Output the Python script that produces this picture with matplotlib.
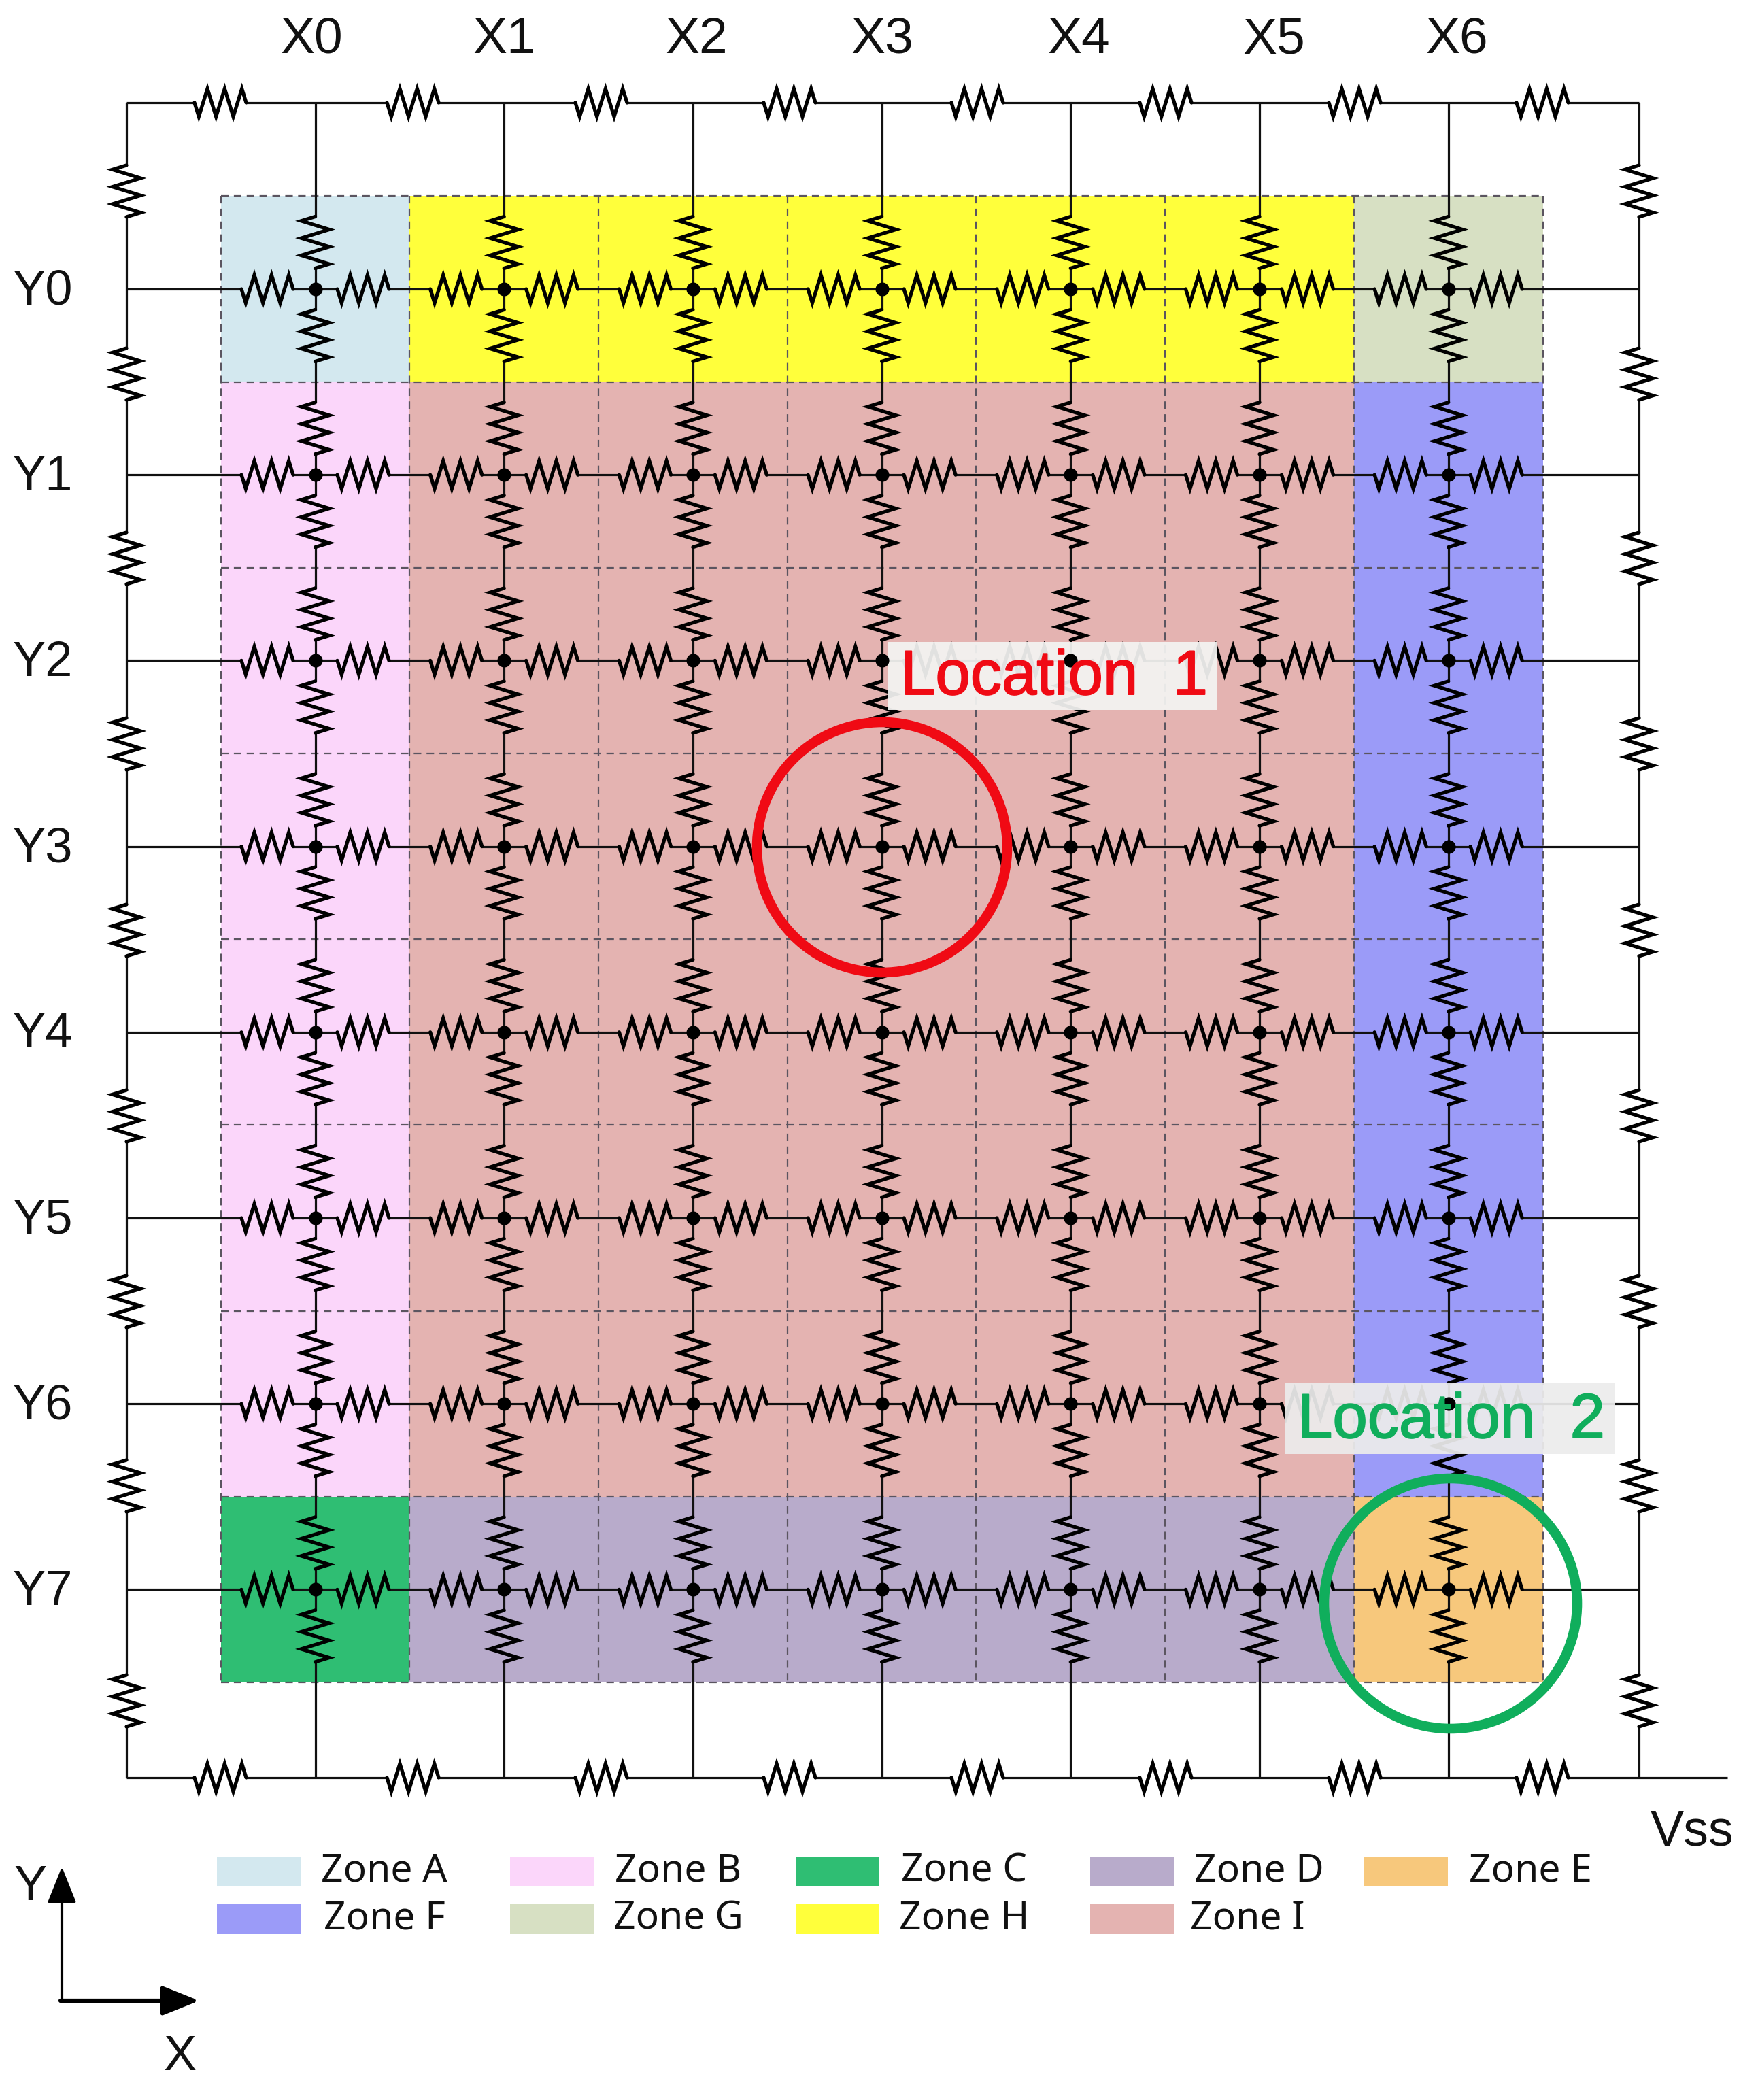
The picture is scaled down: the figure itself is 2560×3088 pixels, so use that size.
import numpy as np
import matplotlib
matplotlib.use("Agg")
import matplotlib.pyplot as plt
import matplotlib.patheffects as pe
from matplotlib.collections import LineCollection
from matplotlib.patches import Rectangle, Ellipse

# ---- chart content -------------------------------------------------
x_labels = ["X0", "X1", "X2", "X3", "X4", "X5", "X6"]
y_labels = ["Y0", "Y1", "Y2", "Y3", "Y4", "Y5", "Y6", "Y7"]
zone_rows = ["AHHHHHG", "BIIIIIF", "BIIIIIF", "BIIIIIF",
             "BIIIIIF", "BIIIIIF", "BIIIIIF", "CDDDDDE"]
zone_names = ["A", "B", "C", "D", "E", "F", "G", "H", "I"]
zone_colors = ["#D3E8EF", "#FBD6FA", "#2FBE73", "#B8ABCB", "#F7C87C",
               "#9B9BF8", "#D7E0C3", "#FFFF3B", "#E4B3B1"]

# ---- geometry (grid units; one unit = one node pitch) ---------------
W, H = 2560, 3088
PX, PY = 277.7, 273.2       # pixels per grid unit
X0, Y0 = 463.5, 425.0       # pixel position of node X0/Y0
def px(v): return (v - X0) / PX
def py(v): return (v - Y0) / PY

plt.rcParams["font.family"] = ["Liberation Sans", "DejaVu Sans"]
fig = plt.figure(figsize=(W / 100, H / 100), dpi=100)
ax = fig.add_axes([0, 0, 1, 1])
ax.set_xlim(px(0), px(W))
ax.set_ylim(py(H), py(0))
ax.axis("off")

# zones
for r, row in enumerate(zone_rows):
    for c, z in enumerate(row):
        ax.add_patch(Rectangle((c - 0.5, r - 0.5), 1, 1, lw=0,
                               fc=zone_colors[zone_names.index(z)], zorder=1))
dash = dict(color="#5b5560", lw=1.6, ls=(0, (5, 3.5)), zorder=2)
for c in range(8):
    ax.plot([c - 0.5, c - 0.5], [-0.5, 7.5], **dash)
for r in range(9):
    ax.plot([-0.5, 6.5], [r - 0.5, r - 0.5], **dash)

RL, AMP = 76.0, 20.5        # resistor length and half width, pixels
ts = (np.arange(6) + 0.5) / 6

def h_res(xc, y):
    xs = xc + (np.r_[0, ts, 1] - 0.5) * RL / PX
    off = np.r_[0, np.tile([1, -1], 3), 0] * AMP / PY
    return np.c_[xs, y + off]

def v_res(x, yc):
    ys = yc + (np.r_[0, ts, 1] - 0.5) * RL / PY
    off = np.r_[0, np.tile([-1, 1], 3), 0] * AMP / PX
    return np.c_[x + off, ys]

wires, res = [], []

def h_line(y, x_start, x_end, centers):
    cur = x_start
    for xc in sorted(centers):
        wires.append([(cur, y), (xc - RL / 2 / PX, y)])
        res.append(h_res(xc, y))
        cur = xc + RL / 2 / PX
    wires.append([(cur, y), (x_end, y)])

def v_line(x, y_start, y_end, centers):
    cur = y_start
    for yc in sorted(centers):
        wires.append([(x, cur), (x, yc - RL / 2 / PY)])
        res.append(v_res(x, yc))
        cur = yc + RL / 2 / PY
    wires.append([(x, cur), (x, y_end)])

left, right = px(186), px(2410)
top, bottom = py(151), py(2614)
mids = [px(v) for v in (324, 607, 884, 1161, 1437, 1714, 1992, 2268)]
hoff, voff = 70.5 / PX, 68.5 / PY

h_line(top, left, right, mids)
h_line(bottom, left, px(2540), mids)
side_ys = [py(v) for v in (281, 550, 821, 1094, 1368, 1641, 1914, 2185, 2501)]
v_line(left, top, bottom, side_ys)
v_line(right, top, bottom, side_ys)
for r in range(8):
    cs = []
    for c in range(7):
        cs += [c - hoff, c + hoff]
    h_line(r, left, right, cs)
for c in range(7):
    cs = []
    for r in range(8):
        cs += [r - voff, r + voff]
    v_line(c, top, bottom, cs)

ax.add_collection(LineCollection(wires, colors="#111111", linewidths=2.3, zorder=3))
ax.add_collection(LineCollection(res, colors="black", linewidths=3.8, zorder=4,
                                 capstyle="round", joinstyle="miter"))

# label boxes sit over the network, node dots stay on top
ax.add_patch(Rectangle((px(1306), py(944)), (1789 - 1306) / PX, 100 / PY, lw=0,
                       fc="#F4F4F2", alpha=0.93, zorder=5))
ax.add_patch(Rectangle((px(1889), py(2034)), (2375 - 1889) / PX, 104 / PY, lw=0,
                       fc="#ECECEC", alpha=0.93, zorder=5))
gx, gy = np.meshgrid(np.arange(7), np.arange(8))
ax.scatter(gx.ravel(), gy.ravel(), s=210, c="black", lw=0, zorder=6)

RED, GREEN = "#F00A14", "#10AE5C"
ax.text(px(1550), py(997), "Location  1", color=RED, fontsize=66.5,
        ha="center", va="center", zorder=7,
        path_effects=[pe.withStroke(linewidth=1.4, foreground=RED)])
ax.text(px(2134), py(2090), "Location  2", color=GREEN, fontsize=66.5,
        ha="center", va="center", zorder=7,
        path_effects=[pe.withStroke(linewidth=1.4, foreground=GREEN)])
ax.add_patch(Ellipse((px(1297), py(1246)), 2 * 184 / PX, 2 * 184 / PY, fill=False,
                     ec=RED, lw=10.5, zorder=7))
ax.add_patch(Ellipse((px(2133), py(2358)), 2 * 186 / PX, 2 * 184 / PY, fill=False,
                     ec=GREEN, lw=10.5, zorder=7))

# axis labels
x_label_px = [458, 741, 1024, 1297, 1586, 1873, 2142]
for s, v in zip(x_labels, x_label_px):
    ax.text(px(v), py(59), s, fontsize=54, ha="center", va="center", color="#111111")
for i, s in enumerate(y_labels):
    ax.text(px(63), i + 4 / PY, s, fontsize=52, ha="center", va="center", color="#111111")
ax.text(px(2488), py(2694), "Vss", fontsize=53, ha="center", va="center", color="#111111")
ax.text(px(44), py(2776), "Y", fontsize=52, ha="center", va="center", color="#111111")
ax.text(px(265), py(3026), "X", fontsize=52, ha="center", va="center", color="#111111")

# direction arrows
head = "-|>,head_length=1.5,head_width=0.6"
ax.annotate("", xy=(px(91), py(2745)), xytext=(px(91), py(2942)), zorder=8,
            arrowprops=dict(arrowstyle=head, color="black", lw=3.0, shrinkA=0, shrinkB=0,
                            mutation_scale=22))
ax.annotate("", xy=(px(293), py(2942)), xytext=(px(89), py(2942)), zorder=8,
            arrowprops=dict(arrowstyle=head, color="black", lw=4.5, shrinkA=0, shrinkB=0,
                            mutation_scale=22))

# legend
swatch_x = [319, 750, 1170, 1603, 2006]
text_x = [[565, 997, 1418, 1851, 2250], [565, 997, 1418, 1834]]
row_y = [2752, 2822]
for i, (name, color) in enumerate(zip(zone_names, zone_colors)):
    r, c = divmod(i, 5)
    ax.add_patch(Rectangle((px(swatch_x[c]), py(row_y[r] - 22)), 123 / PX, 44 / PY,
                           lw=0, fc=color, zorder=2))
    ax.text(px(text_x[r][c]), py(row_y[r]), f"Zone {name}", fontsize=41, family="Noto Sans",
            ha="center", va="center", color="#111111")

fig.savefig("out.png", dpi=100, facecolor="white")
